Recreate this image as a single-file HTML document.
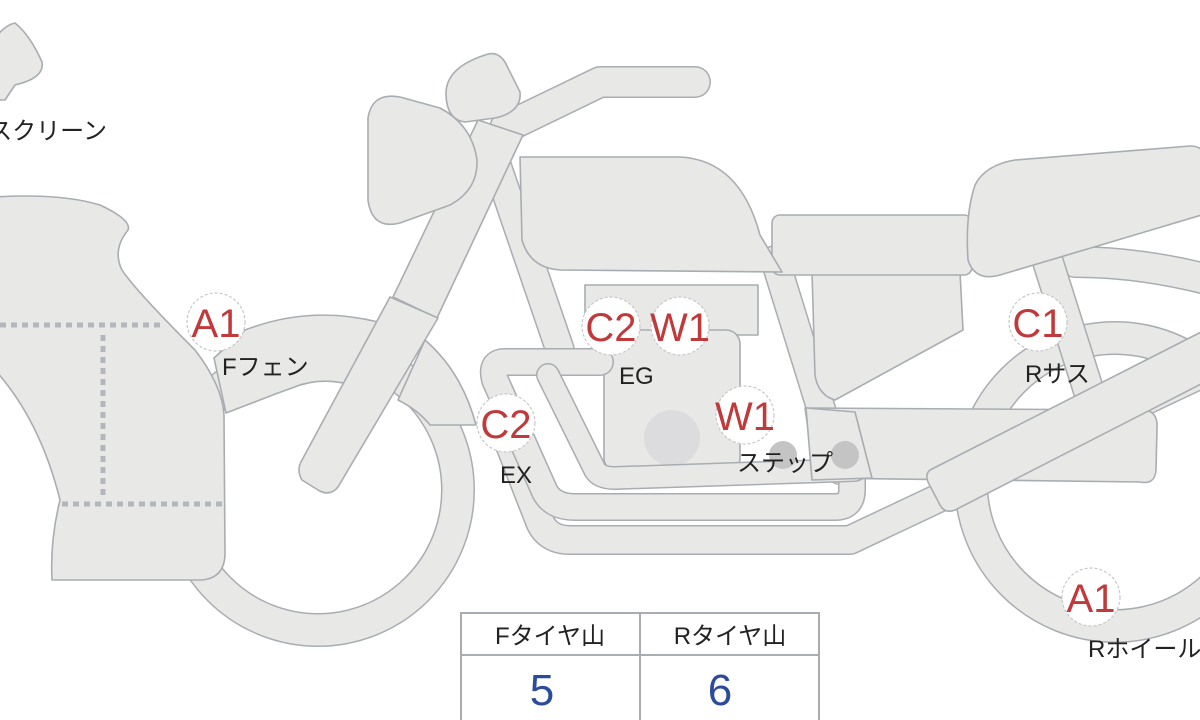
<!DOCTYPE html>
<html><head><meta charset="utf-8"><style>
html,body{margin:0;padding:0;background:#fff;width:1200px;height:720px;overflow:hidden}
svg{display:block}
text{font-family:"Liberation Sans","Noto Sans CJK JP",sans-serif}
</style></head><body>
<svg width="1200" height="720" viewBox="0 0 1200 720" xmlns="http://www.w3.org/2000/svg">
<defs>
<style>
.s{fill:#e8e8e6;stroke:#a9adb1;stroke-width:1.6;stroke-linejoin:round}
.o{fill:none;stroke:#a9adb1;stroke-linecap:round;stroke-linejoin:round}
.i{fill:none;stroke:#e8e8e6;stroke-linecap:round;stroke-linejoin:round}
.lab{fill:#fff;stroke:#c8c8c8;stroke-width:1.2;stroke-dasharray:3 2}
.r{fill:#c0393b;font-size:40px;text-anchor:middle}
.k{fill:#222;font-size:24px}
</style>
</defs>

<circle cx="1115" cy="482" r="144" fill="none" stroke="#a9adb1" stroke-width="34"/>
<circle cx="1115" cy="482" r="144" fill="none" stroke="#e8e8e6" stroke-width="31"/>

<circle cx="318" cy="490" r="140" fill="none" stroke="#a9adb1" stroke-width="34"/>
<circle cx="318" cy="490" r="140" fill="none" stroke="#e8e8e6" stroke-width="31"/>

<path class="o" stroke-width="32" d="M1075,262 Q1140,262 1210,280"/>
<path class="i" stroke-width="29" d="M1075,262 Q1140,262 1210,280"/>
<path class="o" stroke-width="32" d="M1048,262 L1090,395"/>
<path class="i" stroke-width="29" d="M1048,262 L1090,395"/>

<path class="o" stroke-width="30" d="M495,160 L560,350"/>
<path class="i" stroke-width="27" d="M495,160 L560,350"/>
<path class="o" stroke-width="30" d="M775,260 L840,470"/>
<path class="i" stroke-width="27" d="M775,260 L840,470"/>

<rect class="s" x="585" y="285" width="173" height="50"/>
<rect class="s" x="604" y="330" width="136" height="142" rx="14"/>
<circle cx="672" cy="438" r="28" fill="#dcdcde"/>

<path class="o" stroke-width="30" d="M500,420 L540,522 Q548,540 570,540 L850,540 L1210,370"/>
<path class="i" stroke-width="27" d="M500,420 L540,522 Q548,540 570,540 L850,540 L1210,370"/>
<path class="o" stroke-width="28" d="M600,362 L505,362 Q490,362 495,380 L545,492 Q553,507 575,507 L835,507 Q852,507 852,490 L852,472"/>
<path class="i" stroke-width="25" d="M600,362 L505,362 Q490,362 495,380 L545,492 Q553,507 575,507 L835,507 Q852,507 852,490 L852,472"/>
<path class="o" stroke-width="24" d="M548,375 L595,470 Q600,478 615,478 L855,470"/>
<path class="i" stroke-width="21" d="M548,375 L595,470 Q600,478 615,478 L855,470"/>

<path class="s" d="M805,408 L1145,410 Q1158,412 1157,428 L1156,470 Q1155,485 1140,482 L815,478 Z"/>
<path class="s" d="M806,408 L855,412 L872,478 L812,480 Z"/>
<circle cx="783" cy="455" r="14" fill="#c4c4c4"/>
<circle cx="845" cy="455" r="14" fill="#c4c4c4"/>

<path class="s" d="M930,470 L1205,330 L1205,382 L955,510 Q945,514 940,505 L928,482 Q925,474 930,470 Z"/>

<path class="s" d="M812,272 L960,272 L963,330 L835,400 Q818,395 815,375 Z"/>
<rect class="s" x="772" y="215" width="200" height="60" rx="8"/>
<path class="s" d="M975,185 Q985,165 1015,160 L1190,146 Q1205,146 1205,160 L1205,214 L1000,275 Q975,282 968,260 Q965,215 975,185 Z"/>
<path class="s" d="M520,157 L680,157 Q740,160 760,235 L782,272 L560,270 Q530,268 522,240 Z"/>

<path class="o" stroke-width="32" d="M505,128 L600,82 L695,82"/>
<path class="i" stroke-width="29" d="M505,128 L600,82 L695,82"/>

<path class="s" d="M245,330 Q310,305 378,322 L352,385 Q320,376 292,388 L278,393 L226,413 L214,358 Z"/>
<path class="s" d="M425,340 Q462,372 476,425 L430,425 Q418,410 398,400 Z"/>

<path class="s" d="M478,120 L523,135 L437,318 L393,297 Z"/>
<path class="s" d="M390,297 L438,318 L338,487 Q330,497 318,490 L302,480 Q296,470 302,460 Z"/>

<path class="s" d="M368,118 Q372,92 400,97 L440,108 Q472,125 477,160 Q478,190 450,205 L400,223 Q372,230 368,200 Z"/>
<path class="s" d="M446,95 Q445,68 485,55 Q497,50 505,62 L520,92 Q522,112 495,118 L465,122 Q447,120 446,95 Z"/>

<path class="s" d="M-5,197 Q60,193 100,205 Q132,220 128,230 Q112,250 122,270 Q135,290 195,350 Q222,385 224,415 L225,555 Q224,578 202,580 L52,580 Q50,540 60,500 Q40,420 -5,370 Z"/>
<path class="s" d="M-5,38 Q5,25 15,23 Q30,35 42,62 Q45,78 15,85 L5,100 L-5,100 Z"/>

<g stroke="#b3b6ba" stroke-width="5" stroke-dasharray="6 5" fill="none">
<path d="M0,325 L160,325"/>
<path d="M103,335 L103,500"/>
<path d="M62,504 L222,504"/>
</g>

<circle class="lab" cx="216" cy="322" r="29"/><text class="r" x="216" y="337">A1</text>
<circle class="lab" cx="611" cy="326" r="29"/>
<circle class="lab" cx="680" cy="326" r="29"/>
<text class="r" x="611" y="341">C2</text><text class="r" x="680" y="341">W1</text>
<circle class="lab" cx="506" cy="423" r="29"/><text class="r" x="506" y="438">C2</text>
<circle class="lab" cx="745" cy="415" r="29"/><text class="r" x="745" y="430">W1</text>
<circle class="lab" cx="1038" cy="322" r="29"/><text class="r" x="1038" y="337">C1</text>
<circle class="lab" cx="1091" cy="597" r="29"/><text class="r" x="1091" y="612">A1</text>

<text class="k" x="107" y="139" text-anchor="end">スクリーン</text>
<text class="k" x="222" y="375">Fフェン</text>
<text class="k" x="619" y="384">EG</text>
<text class="k" x="500" y="483">EX</text>
<text class="k" x="737" y="471">ステップ</text>
<text class="k" x="1025" y="382">Rサス</text>
<text class="k" x="1088" y="657">Rホイール</text>

<g stroke="#a9adb1" stroke-width="2" fill="none">
<rect x="461" y="613" width="358" height="112"/>
<line x1="461" y1="655" x2="819" y2="655"/>
<line x1="640" y1="613" x2="640" y2="725"/>
</g>
<text x="550" y="644" text-anchor="middle" font-size="24" fill="#222">Fタイヤ山</text>
<text x="730" y="644" text-anchor="middle" font-size="24" fill="#222">Rタイヤ山</text>
<text x="542" y="705" text-anchor="middle" font-size="44" fill="#2c4b9a">5</text>
<text x="720" y="705" text-anchor="middle" font-size="44" fill="#2c4b9a">6</text>
</svg>
</body></html>
